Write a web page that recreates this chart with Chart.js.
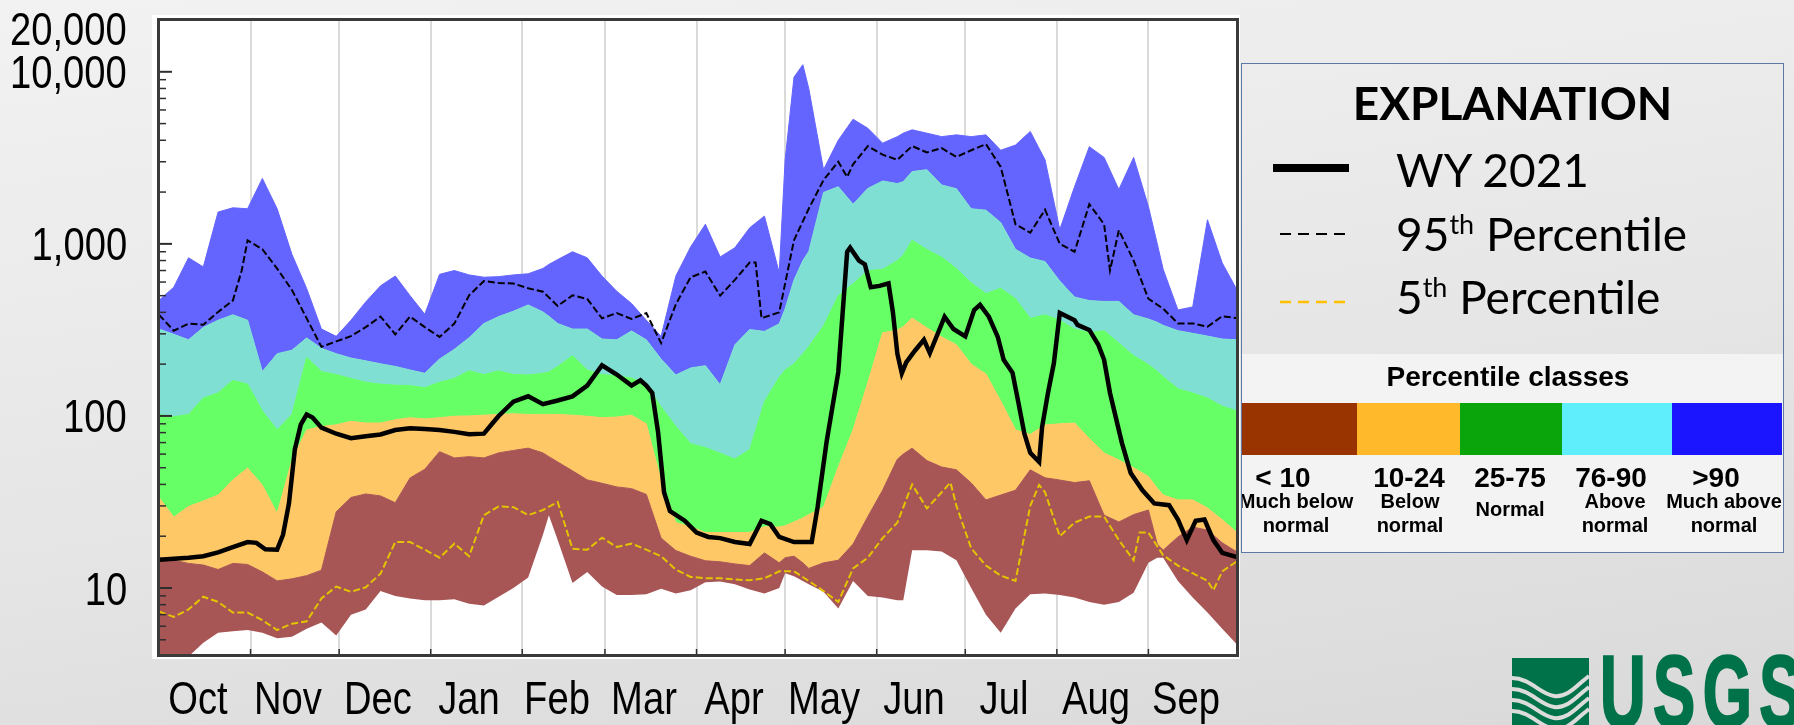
<!DOCTYPE html>
<html><head><meta charset="utf-8">
<script src="https://cdn.jsdelivr.net/npm/chart.js@4.4.0/dist/chart.umd.min.js"></script>
<style>
html,body{margin:0;padding:0;width:1794px;height:725px;overflow:hidden;}
body{position:relative;background:linear-gradient(172deg,#f2f2f2 0%,#e7e7e7 50%,#d9d9d9 100%);font-family:'Liberation Sans',Arial,sans-serif;}
#c{position:absolute;left:0;top:0;}
.ax{position:absolute;white-space:nowrap;font-family:'Liberation Sans',Arial,sans-serif;font-size:46px;line-height:46px;color:#000;}
.axy{transform-origin:100% 50%;transform:scaleX(0.83);text-align:right;}
.axx{transform:translateX(-50%) scaleX(0.83);}
#legend{position:absolute;left:1241px;top:63px;width:543px;height:490px;box-sizing:border-box;border:1.5px solid #5c78a4;overflow:hidden;}
#legend .t{position:absolute;white-space:nowrap;font-family:Lato,'Open Sans',sans-serif;font-size:46px;line-height:46px;color:#000;}
#lgTitle{left:0;width:100%;text-align:center;top:16px;font-weight:bold;}
#legend .sup{font-size:27px;position:relative;top:-17px;}
#lower{position:absolute;left:0;top:290px;width:100%;height:200px;background:#f3f3f3;}
#clsTitle{position:absolute;left:0;width:532px;text-align:center;top:9px;font-weight:bold;font-size:28px;line-height:28px;}
#bar{position:absolute;left:0;top:49px;height:52px;width:100%;display:flex;}
#bar div{height:100%;}
.num{position:absolute;width:200px;text-align:center;font-weight:bold;font-size:28px;line-height:28px;top:110px;}
.sub{position:absolute;width:200px;text-align:center;font-weight:bold;font-size:20px;line-height:23.5px;top:136px;}
#usgs{position:absolute;left:1512px;top:658px;}
#usgsText{position:absolute;left:1600px;top:642px;font-family:'Liberation Sans',Arial,sans-serif;font-weight:bold;font-size:102px;line-height:100px;color:#00724a;-webkit-text-stroke:2.5px #00724a;transform:scaleX(0.62);transform-origin:0 0;letter-spacing:12px;white-space:nowrap;}
</style></head>
<body>
<canvas id="c" width="1794" height="725"></canvas>

<div id="legend">
  <div class="t" id="lgTitle">EXPLANATION</div>
  <svg style="position:absolute;left:0;top:0" width="160" height="260">
    <line x1="31" y1="104" x2="107" y2="104" stroke="#000" stroke-width="8"/>
    <line x1="38" y1="170" x2="106" y2="170" stroke="#000" stroke-width="2" stroke-dasharray="11,7"/>
    <line x1="38" y1="238" x2="106" y2="238" stroke="#ffc000" stroke-width="2.5" stroke-dasharray="11,7"/>
  </svg>
  <div class="t" style="left:154px;top:83px">WY 2021</div>
  <div class="t" style="left:154px;top:147px">95<span class="sup">th</span> Percentile</div>
  <div class="t" style="left:154px;top:210px">5<span class="sup">th</span> Percentile</div>
  <div id="lower">
    <div id="clsTitle">Percentile classes</div>
    <div id="bar">
      <div style="width:115px;background:#993300"></div>
      <div style="width:103px;background:#ffb92a"></div>
      <div style="width:102px;background:#0aa50a"></div>
      <div style="width:110px;background:#5eeefc"></div>
      <div style="width:110px;background:#1a14ff"></div>
    </div>
    <div class="num" style="left:-59px">&lt; 10</div>
    <div class="num" style="left:67px">10-24</div>
    <div class="num" style="left:168px">25-75</div>
    <div class="num" style="left:269px">76-90</div>
    <div class="num" style="left:374px">&gt;90</div>
    <div class="sub" style="left:-46px">Much below<br>normal</div>
    <div class="sub" style="left:68px">Below<br>normal</div>
    <div class="sub" style="left:168px;top:144px">Normal</div>
    <div class="sub" style="left:273px">Above<br>normal</div>
    <div class="sub" style="left:382px">Much above<br>normal</div>
  </div>
</div>

<svg id="usgs" width="77" height="67" viewBox="0 0 77 67">
  <rect x="0" y="0" width="77" height="67" fill="#00724a"/>
  <path d="M0,20 C18,20 28,36 42,38 C56,40 66,26 77,18" stroke="#dcdcdc" stroke-width="4" fill="none"/>
  <path d="M0,31 C18,31 28,47 42,49 C56,51 66,37 77,29" stroke="#dcdcdc" stroke-width="4" fill="none"/>
  <path d="M0,42 C18,42 28,58 42,60 C56,62 66,48 77,40" stroke="#dcdcdc" stroke-width="4" fill="none"/>
  <path d="M0,53 C18,53 28,69 42,71 C56,73 66,59 77,51" stroke="#dcdcdc" stroke-width="4" fill="none"/>
</svg>
<div id="usgsText">USGS</div>

<script>
// ---- axis definitions ----
const monthLabels = ['Oct','Nov','Dec','Jan','Feb','Mar','Apr','May','Jun','Jul','Aug','Sep'];
const monthStartDays = [0,31,61,92,123,151,182,212,243,273,304,335,365];
const yTickValues = [10,100,1000,10000,20000];
const yTickLabels = ['10','100','1,000','10,000','20,000'];
const yMajorTicks = [10,100,1000,10000];
const yMinorTicks = [5,6,7,8,9,20,30,40,50,60,70,80,90,200,300,400,500,600,700,800,900,2000,3000,4000,5000,6000,7000,8000,9000];

// ---- percentile bands (day of water year, discharge) ----
const bandDays = [
  0,5,10,15,20,25,30,35,40,45,
  50,55,60,65,70,75,80,85,90,95,
  100,105,110,115,120,125,130,132,135,140,
  145,150,155,160,165,170,175,180,185,190,
  195,200,205,210,212,215,218,220,225,230,
  235,240,245,250,252,255,260,265,270,275,
  280,285,290,295,300,305,310,315,320,325,
  330,335,338,340,345,350,355,360,365];
const maxFlow = [
  470,560,830,735,1530,1620,1600,2400,1600,870,
  550,320,290,360,460,570,650,500,390,665,
  700,660,640,645,660,670,720,760,810,900,
  830,650,530,450,360,290,650,960,1300,840,
  950,1240,1450,680,3080,9300,11000,8000,2700,4000,
  5300,4700,3850,4200,4400,4600,4400,4200,4300,4200,
  4300,3500,3750,4500,3080,1210,2150,3670,3180,2070,
  3180,1650,1000,712,413,430,1380,775,540];
const p90Flow = [
  320,298,277,327,360,387,360,181,230,241,
  284,247,230,217,209,201,194,185,177,214,
  244,285,344,378,406,442,402,380,344,320,
  320,280,277,312,277,214,173,190,196,152,
  259,318,310,343,420,616,800,903,1990,2150,
  1700,2100,2320,2240,2300,2630,2700,2200,2090,1600,
  1570,1330,930,828,789,608,491,468,463,463,
  387,366,350,336,313,302,291,280,277];
const p75Flow = [
  102,99,102,127,136,161,153,107,83,102,
  219,181,174,165,157,153,151,150,146,157,
  165,183,174,183,174,173,177,180,194,224,
  185,174,171,166,153,113,87,69,65.5,60.7,
  56.2,63.8,121,168,185,201,230,253,334,500,
  586,700,710,800,860,1050,926,837,718,593,
  514,552,479,369,387,360,320,305,313,265,
  224,199,182,169,144,136,127,114,107];
const p25Flow = [
  33.6,25.8,29.8,32,34.7,42.5,49.8,39.6,27.1,55.2,
  82.8,86.8,88.8,93,91,91,95,97.6,96,97.6,
  99.6,100,101,102,103,102,102,102,102,101,
  99.6,97.6,98.5,101,90,42,24,22.7,21,21,
  21,21,22.7,22.6,23,24.2,25.5,26.7,29.5,50.5,
  83,156,304,316,330,370,325,288,259,200,
  175,122,83,78,88.6,90,91,74,61,55.4,
  50,44.4,38,34.7,32.5,32.5,29.2,24.9,21];
const p10Flow = [
  15,14.5,13.9,13.6,12.8,13.9,13.7,12.4,11,11.3,
  11.8,12.7,27.7,33.6,35.2,34.3,31.3,43.6,49,62,
  57,58,57,61,63,65,61,58,54,48,
  42.5,40.6,38.7,37.8,35,19.5,16.5,15.3,14.4,14.2,
  13.8,13.5,16,14,15,15.3,14,13,14,14.5,
  18,26,37,56,60,65,55,50.5,48.6,40.8,
  32.5,34.7,37,48.6,43.7,42.4,41,42,26.5,24.2,
  26.7,28.4,18,16.6,19.8,22.6,21.7,18.3,16.2];
const minFlow = [
  3.8,3.9,4.0,4.8,5.5,5.6,5.7,5.5,5.1,5.2,
  5.8,6.3,5.3,7.0,7.5,9.6,9.0,8.7,8.5,8.5,
  8.6,8.1,7.9,8.9,10,11.5,20.4,26.5,19,10.7,
  12.4,10.2,9.1,9.1,9.2,9.9,9.3,9.7,10.8,10.9,
  10.5,9.8,9.3,10,12.2,11.7,11,10.5,9.5,7.6,
  11,9,8.8,8.5,8.5,16.6,16.6,16.3,14.5,10,
  7,5.5,7.6,9.2,9.3,9.1,8.8,8.3,8,8.3,
  9.4,14,15,15,11,8.8,7.2,5.8,4.7];

// ---- 95th percentile ----
const p95Days = [
  0,5,10,15,20,25,28,30,35,40,
  45,50,55,60,65,70,75,80,85,90,
  95,100,105,110,115,120,125,130,135,140,
  145,150,155,160,165,170,175,180,185,190,
  195,200,202,204,210,215,220,225,230,233,
  235,240,245,250,255,260,265,270,275,280,
  285,290,295,300,305,310,315,320,322,325,
  330,335,340,345,350,355,360,365];
const p95Flow = [
  387,313,344,339,402,468,700,1048,931,718,
  540,369,252,271,291,328,378,298,378,328,
  288,344,502,608,593,588,552,527,436,502,
  479,369,396,366,396,265,446,640,690,500,
  618,780,780,370,400,1050,1600,2350,3000,2450,
  2900,3700,3300,3080,3700,3400,3600,3200,3500,3800,
  2800,1300,1160,1580,1000,900,1700,1300,700,1200,
  800,480,420,345,345,330,380,370];

// ---- 5th percentile ----
const p5Days = [
  0,5,10,15,20,25,30,35,40,45,
  50,55,60,65,70,75,80,85,90,95,
  100,105,110,115,120,125,130,135,140,145,
  150,155,160,165,170,175,180,185,190,195,
  200,205,210,215,220,225,230,235,240,245,
  250,255,260,265,268,270,275,280,285,290,
  295,298,300,305,310,315,320,325,330,332,
  335,340,345,350,355,357,360,365];
const p5Flow = [
  7.3,6.8,7.5,8.9,8.3,7.2,7.2,6.5,5.7,6.2,
  6.4,8.7,10.2,9.5,10.1,12.1,18.5,18.5,16.7,15,
  18.1,15.3,26.5,29.8,29.5,26.5,28.4,31.6,16.9,16.7,
  19.6,17.3,18.1,16.7,15.3,12.8,11.6,11.4,11.4,11.2,
  11.1,11.4,12.5,12.5,11,9.6,8.3,13,15,19.5,
  24,40,29,36,41,30,17,13.5,11.8,11,
  30,39.7,36,20,24,26,26,19,14.5,21,
  21,15.5,13.5,12.2,11,9.7,12.5,14.3];

// ---- WY 2021 daily discharge ----
const wyDays = [
  0,5,10,15,20,25,30,33,36,40,
  42,44,46,48,50,52,55,60,65,70,
  75,80,85,90,95,100,105,110,113,115,
  120,125,130,135,140,145,150,155,160,163,
  165,167,169,171,173,178,182,186,190,195,
  200,202,204,207,210,215,221,223,226,230,
  233,234,237,239,241,244,247,248.5,250,251.5,
  253,256,259,261,266,269,273,276,278,281,
  284,286,289,291,293,295,298,299,301,303,
  305,310,311,315,318,320,322,326,329,333,
  337,342,345,348,351,354,357,360,365];
const wyFlow = [
  14.6,14.8,15,15.3,16.1,17.3,18.5,18.3,16.8,16.7,
  20.4,31,64,89,102,98,85.5,78.8,74.2,76.3,
  78,82.8,84.8,83.9,82.8,80.8,78.2,78.9,91,100,
  121,130,117,123,130,150,197,174,150,161,
  150,136,80,36,28,24.6,21,19.8,19.5,18.5,
  18,21,24.6,23.5,19.8,18.5,18.5,29.5,70,180,
  900,950,800,760,560,570,590,400,230,177,
  205,240,277,232,377,320,290,413,442,377,
  288,212,178,119,79,61,54,86,136,203,
  397,360,338,316,260,212,136,70,46.6,37,
  31,30.3,25,19,24.6,25,19,16,15.1];

// ---- colours ----
const colBrown = '#a85555', colOrange = '#ffc866', colGreen = '#66ff66', colTeal = '#80dfd3', colBlue = '#6464ff';

function pts(days, vals){ return days.map((d,i)=>({x:d, y:vals[i]})); }
function band(label, vals, color){
  return {label, data: pts(bandDays, vals), fill:'-1', backgroundColor: color, borderColor: color, borderWidth: 1, pointRadius: 0, order: 10};
}

const framePlugin = {
  id: 'frame',
  beforeDraw(chart){
    const {ctx, chartArea:a} = chart;
    ctx.save();
    ctx.fillStyle = '#ffffff';
    ctx.fillRect(a.left-7, a.top-5, a.right-a.left+10, a.bottom-a.top+9);
    ctx.restore();
  },
  afterDatasetsDraw(chart){
    const {ctx, chartArea:a, scales:{x, y}} = chart;
    ctx.save();
    ctx.strokeStyle = '#2e2e2e';
    const seg = (x1,y1,x2,y2)=>{ ctx.beginPath(); ctx.moveTo(x1,y1); ctx.lineTo(x2,y2); ctx.stroke(); };
    ctx.lineWidth = 2;
    yMajorTicks.forEach(v=>{ const py = y.getPixelForValue(v); seg(a.left, py, a.left+13, py); });
    ctx.lineWidth = 1.5;
    yMinorTicks.forEach(v=>{ const py = y.getPixelForValue(v); seg(a.left, py, a.left+7, py); });
    monthStartDays.forEach(d=>{ const px = x.getPixelForValue(d); seg(px, a.bottom, px, a.bottom-6); });
    ctx.lineWidth = 3;
    ctx.strokeStyle = '#3a3a3a';
    ctx.strokeRect(a.left-0.5, a.top-0.5, a.right-a.left+1, a.bottom-a.top+1);
    ctx.restore();
  }
};

const chart = new Chart(document.getElementById('c'), {
  type: 'line',
  data: {
    datasets: [
      {label:'min', data: pts(bandDays, minFlow), fill:false, borderWidth:0, pointRadius:0, order:10},
      band('p10', p10Flow, colBrown),
      band('p25', p25Flow, colOrange),
      band('p75', p75Flow, colGreen),
      band('p90', p90Flow, colTeal),
      band('max', maxFlow, colBlue),
      {label:'5th Percentile', data: pts(p5Days, p5Flow), fill:false, borderColor:'#e3c400', borderWidth:2, borderDash:[7,3], pointRadius:0, order:3},
      {label:'95th Percentile', data: pts(p95Days, p95Flow), fill:false, borderColor:'#000', borderWidth:2, borderDash:[7,3], pointRadius:0, order:2},
      {label:'WY 2021', data: pts(wyDays, wyFlow), fill:false, borderColor:'#000', borderWidth:4.5, pointRadius:0, order:1}
    ]
  },
  options: {
    responsive: false,
    animation: false,
    layout: {padding: {left:0, right:557, top:20, bottom:0}},
    elements: {line: {tension: 0}},
    plugins: {legend: {display:false}, tooltip: {enabled:false}},
    scales: {
      x: {
        type: 'linear', min: 0, max: 365,
        afterBuildTicks: s => { s.ticks = monthStartDays.map(v => ({value: v})); },
        afterFit: s => { s.height = 70; },
        grid: {color: '#dadada', lineWidth: 2, drawTicks: false},
        border: {display: false},
        ticks: {display: false, autoSkip: false}
      },
      y: {
        type: 'logarithmic', min: 4.08, max: 20000,
        afterBuildTicks: s => { s.ticks = yTickValues.map(v => ({value: v})); },
        afterFit: s => { s.width = 159; },
        grid: {display: false, drawTicks: false},
        border: {display: false},
        ticks: {display: false}
      }
    }
  },
  plugins: [framePlugin]
});

// ---- axis labels as condensed text, placed with the chart's own scales ----
(function placeAxisLabels(){
  const xs = chart.scales.x, ys = chart.scales.y, area = chart.chartArea;
  yTickValues.forEach((v, i) => {
    const el = document.createElement('div');
    el.className = 'ax axy';
    el.textContent = yTickLabels[i];
    const py = Math.max(ys.getPixelForValue(v), area.top + 8);
    el.style.right = (1794 - (area.left - 32)) + 'px';
    el.style.top = (py - 22.5) + 'px';
    document.body.appendChild(el);
  });
  monthLabels.forEach((m, i) => {
    const el = document.createElement('div');
    el.className = 'ax axx';
    el.textContent = m;
    const cx = (xs.getPixelForValue(monthStartDays[i]) + xs.getPixelForValue(monthStartDays[i+1])) / 2 - 7;
    el.style.left = cx + 'px';
    el.style.top = (area.bottom + 42 - 22.5) + 'px';
    document.body.appendChild(el);
  });
})();
</script>
</body></html>
